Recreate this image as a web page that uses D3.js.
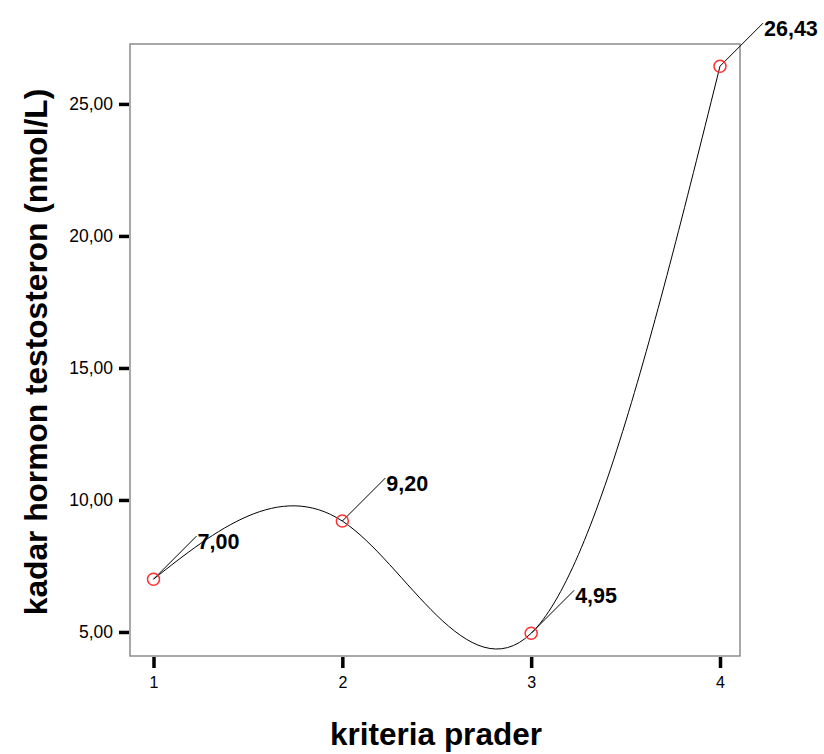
<!DOCTYPE html>
<html>
<head>
<meta charset="utf-8">
<script src="https://cdn.jsdelivr.net/npm/d3@7"></script>
<style>
  body { margin: 0; background: #fff; }
  svg { display: block; font-family: Arial, "Liberation Sans", sans-serif; }
</style>
</head>
<body>
<script>
// data
var kriteria = [1, 2, 3, 4];
var testosteron = [7.00, 9.20, 4.95, 26.43];
var labels = ["7,00", "9,20", "4,95", "26,43"];
var yTicks = [5, 10, 15, 20, 25];

var width = 824, height = 754;
var plotLeft = 130, plotRight = 740, plotTop = 44, plotBottom = 656;

var svg = d3.select("body").append("svg").attr("width", width).attr("height", height);

var x = d3.scaleLinear().domain([1, 4]).range([153.5, 720]);
var y = d3.scaleLinear().domain([4.09, 27.27]).range([plotBottom, plotTop]);

var fmt = function(v) { return d3.format(".2f")(v).replace(".", ","); };

// frame
svg.append("rect")
    .attr("x", plotLeft).attr("y", plotTop)
    .attr("width", plotRight - plotLeft).attr("height", plotBottom - plotTop)
    .attr("fill", "none").attr("stroke", "#8c8c8c").attr("stroke-width", 1.5);

// y axis
var yAxis = svg.append("g").attr("transform", "translate(" + (plotLeft - 1) + ",0)")
    .call(d3.axisLeft(y).tickValues(yTicks).tickSize(10).tickPadding(6).tickFormat(fmt));
yAxis.select(".domain").remove();
yAxis.selectAll(".tick line").attr("stroke", "#000").attr("stroke-width", 3.5);
yAxis.selectAll(".tick text").attr("font-size", 17.5).attr("fill", "#000")
    .attr("font-family", "Arial, 'Liberation Sans', sans-serif");

// x axis
var xAxis = svg.append("g").attr("transform", "translate(0," + (plotBottom + 1) + ")")
    .call(d3.axisBottom(x).tickValues(kriteria).tickSize(11).tickPadding(9).tickFormat(d3.format("d")));
xAxis.select(".domain").remove();
xAxis.selectAll(".tick line").attr("stroke", "#000").attr("stroke-width", 3.5);
xAxis.selectAll(".tick text").attr("font-size", 16).attr("fill", "#000")
    .attr("font-family", "Arial, 'Liberation Sans', sans-serif");

var pts = kriteria.map(function(k, i) { return { k: k, v: testosteron[i], label: labels[i] }; });

// interpolated line
var line = d3.line()
    .x(function(d) { return x(d.k); })
    .y(function(d) { return y(d.v); })
    .curve(d3.curveNatural);

svg.append("path").datum(pts)
    .attr("d", line)
    .attr("fill", "none").attr("stroke", "#000").attr("stroke-width", 1);

// leader lines and value labels
svg.selectAll(".leader").data(pts).enter().append("line")
    .attr("x1", function(d) { return x(d.k); })
    .attr("y1", function(d) { return y(d.v); })
    .attr("x2", function(d) { return x(d.k) + 43; })
    .attr("y2", function(d) { return y(d.v) - 43; })
    .attr("stroke", "#000").attr("stroke-width", 1);

svg.selectAll(".vlabel").data(pts).enter().append("text")
    .attr("x", function(d) { return x(d.k) + 44; })
    .attr("y", function(d) { return y(d.v) - 43 + 13; })
    .attr("font-size", 21.5).attr("font-weight", "bold")
    .text(function(d) { return d.label; });

// markers
svg.selectAll(".pt").data(pts).enter().append("circle")
    .attr("cx", function(d) { return x(d.k); })
    .attr("cy", function(d) { return y(d.v); })
    .attr("r", 6)
    .attr("fill", "none").attr("stroke", "#ff3030").attr("stroke-width", 1.5);

// axis titles
svg.append("text")
    .attr("x", (plotLeft + plotRight) / 2 + 1).attr("y", 745)
    .attr("text-anchor", "middle")
    .attr("font-size", 31.5).attr("font-weight", "bold")
    .text("kriteria prader");

svg.append("text")
    .attr("transform", "translate(47," + ((plotTop + plotBottom) / 2 + 2) + ") rotate(-90)")
    .attr("text-anchor", "middle")
    .attr("font-size", 31.7).attr("font-weight", "bold")
    .text("kadar hormon testosteron (nmol/L)");
</script>
</body>
</html>
